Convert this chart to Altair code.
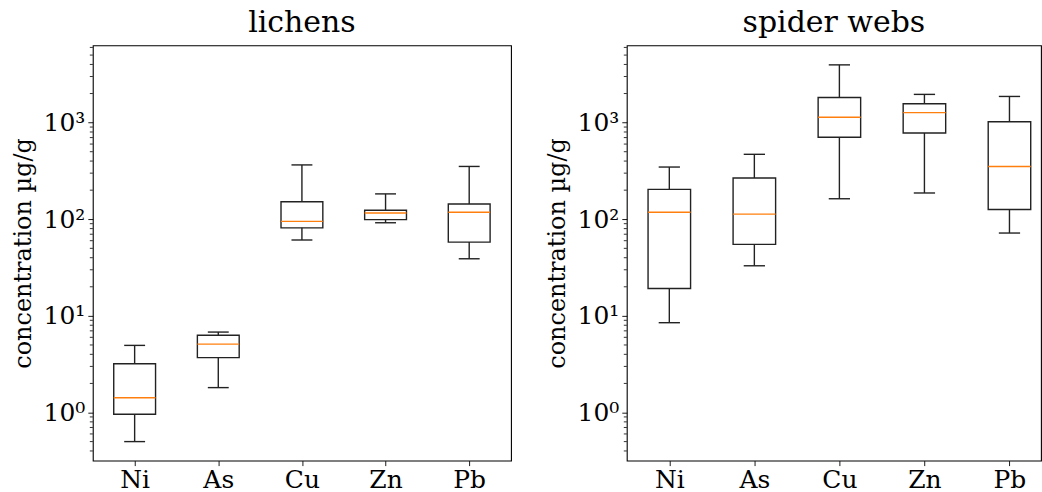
import altair as alt
import pandas as pd

elements = ["Ni", "As", "Cu", "Zn", "Pb"]
positions = [1, 2, 3, 4, 5]

lichens_low = [0.50, 1.81, 61, 92, 39]
lichens_q1 = [0.96, 3.7, 81.5, 99, 58]
lichens_med = [1.42, 5.1, 95, 116, 118]
lichens_q3 = [3.2, 6.3, 152, 124, 144]
lichens_high = [4.95, 6.8, 365, 183, 352]

spider_low = [8.5, 33, 163, 187, 72]
spider_q1 = [19.2, 55, 706, 782, 126]
spider_med = [118, 113, 1135, 1268, 352]
spider_q3 = [204, 267, 1820, 1570, 1021]
spider_high = [347, 470, 3960, 1960, 1866]

major_ticks = [1, 10, 100, 1000]
minor_ticks = [0.4, 0.5, 0.6, 0.7, 0.8, 0.9,
               2, 3, 4, 5, 6, 7, 8, 9,
               20, 30, 40, 50, 60, 70, 80, 90,
               200, 300, 400, 500, 600, 700, 800, 900,
               2000, 3000, 4000, 5000, 6000]

FONT = "DejaVu Serif"
Y_DOMAIN = [0.318, 6300]

label_expr = "[" + ",".join("'%s'" % e for e in elements) + "][datum.value - 1]"
sup_expr = ("datum.value == 1 ? '10⁰' : datum.value == 10 ? '10¹' : "
            "datum.value == 100 ? '10²' : datum.value == 1000 ? '10³' : ''")


def panel(title, low, q1, med, q3, high, width, xmax):
    df = pd.DataFrame({"el": elements, "pos": positions, "low": low, "q1": q1,
                       "med": med, "q3": q3, "high": high})
    minor = pd.DataFrame({"v": minor_ticks})
    xs = alt.Scale(domain=[0.5, xmax], nice=False, zero=False)
    ys = alt.Scale(type="log", domain=Y_DOMAIN, nice=False)
    xaxis = alt.Axis(values=positions, labelExpr=label_expr, title=None,
                     grid=False, domain=False, tickSize=5, labelPadding=2,
                     labelFontSize=25)
    yaxis = alt.Axis(values=major_ticks, labelExpr=sup_expr,
                     title="concentration µg/g", grid=False, domain=False,
                     tickSize=5, labelPadding=3, titlePadding=8,
                     labelFontSize=25, titleFontSize=24)

    base = alt.Chart(df).transform_calculate(
        left="datum.pos - 0.25", right="datum.pos + 0.25",
        capl="datum.pos - 0.125", capr="datum.pos + 0.125")

    whisk = base.mark_rule(color="#222", strokeWidth=1.4).encode(
        x=alt.X("pos:Q", scale=xs, axis=xaxis),
        y=alt.Y("low:Q", scale=ys, axis=yaxis), y2="high:Q")
    cap_lo = base.mark_rule(color="#222", strokeWidth=1.4).encode(
        x=alt.X("capl:Q", scale=xs, axis=xaxis), x2="capr:Q",
        y=alt.Y("low:Q", scale=ys, axis=yaxis))
    cap_hi = base.mark_rule(color="#222", strokeWidth=1.4).encode(
        x=alt.X("capl:Q", scale=xs, axis=xaxis), x2="capr:Q",
        y=alt.Y("high:Q", scale=ys, axis=yaxis))
    box = base.mark_rect(fill="white", stroke="#222", strokeWidth=1.4).encode(
        x=alt.X("left:Q", scale=xs, axis=xaxis), x2="right:Q",
        y=alt.Y("q1:Q", scale=ys, axis=yaxis), y2="q3:Q")
    median = base.mark_rule(color="#ff7f0e", strokeWidth=1.4).encode(
        x=alt.X("left:Q", scale=xs, axis=xaxis), x2="right:Q",
        y=alt.Y("med:Q", scale=ys, axis=yaxis))
    mticks = alt.Chart(minor).mark_rule(color="black", strokeWidth=0.8).encode(
        x=alt.value(0), x2=alt.value(-3),
        y=alt.Y("v:Q", scale=ys, axis=yaxis))

    return alt.layer(whisk, cap_lo, cap_hi, box, median, mticks).properties(
        width=width, height=416,
        title=alt.TitleParams(title, fontSize=30, font=FONT, fontWeight="normal",
                              color="black", offset=7))


left = panel("lichens", lichens_low, lichens_q1, lichens_med, lichens_q3,
             lichens_high, 419, 5.5)
right = panel("spider webs", spider_low, spider_q1, spider_med, spider_q3,
              spider_high, 415, 0.5 + 415 / 85.2)

chart = alt.hconcat(left, right, spacing=32).properties(
    padding={"left": 10, "top": 7, "right": 0, "bottom": 0}
).configure_view(stroke="black", strokeWidth=1.1).configure_axis(
    labelFont=FONT, titleFont=FONT,
    titleFontWeight="normal", labelColor="black", titleColor="black",
    tickColor="black", tickWidth=0.9
)

chart.save("out.html", embed_options={"renderer": "svg", "actions": False})
